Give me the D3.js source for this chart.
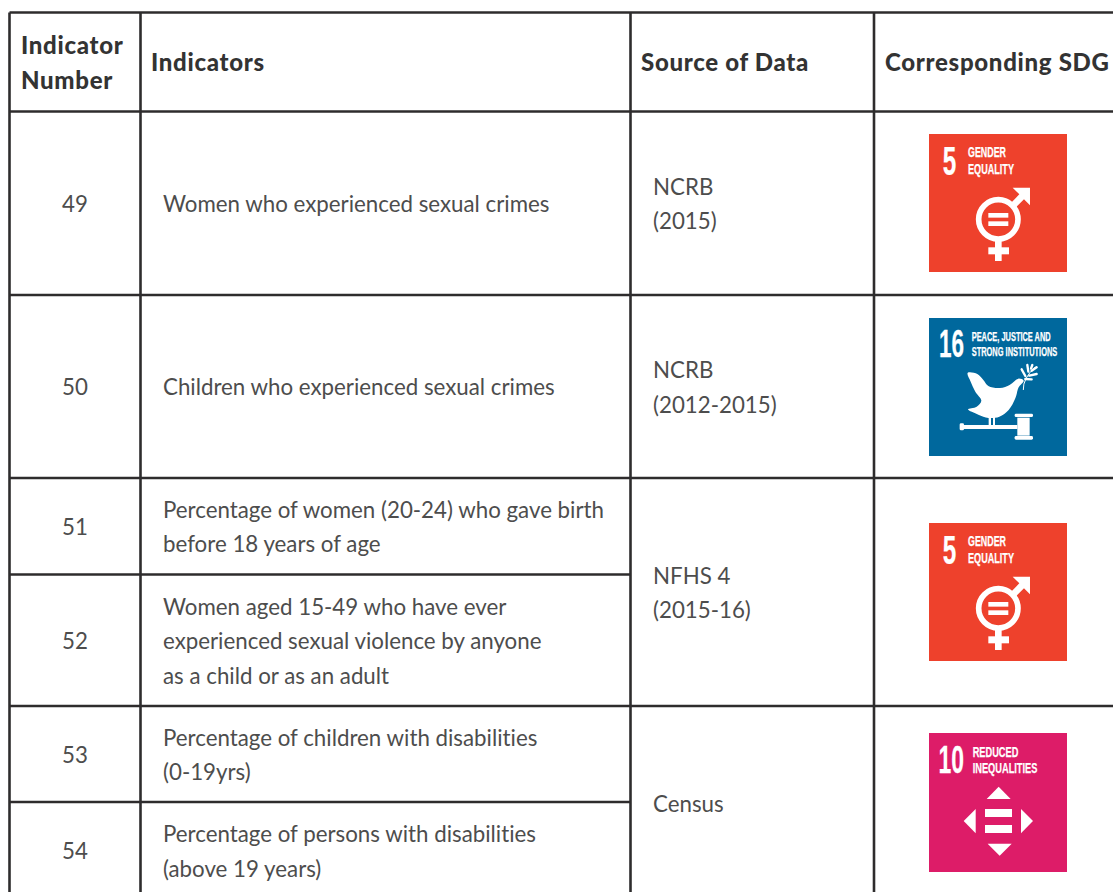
<!DOCTYPE html>
<html>
<head>
<meta charset="utf-8">
<script src="https://d3js.org/d3.v7.min.js"></script>
<style>
  html, body { margin: 0; background: #fff; overflow: hidden; }
  text { font-family: Lato, "Open Sans", sans-serif; font-variant-ligatures: none; }
  .head { font-size: 24px; font-weight: 900; fill: #333; letter-spacing: 0.7px; }
  .cell { font-size: 22.3px; fill: #4d4d4d; }
  .tileText { font-family: "Liberation Sans Narrow", "Liberation Sans", sans-serif; fill: #fff; stroke: #fff; stroke-width: 0.25px; }
</style>
</head>
<body>
<div id="table"></div>
<script>
// table content
var headers = [
  { lines: ["Indicator", "Number"], col: 0 },
  { lines: ["Indicators"], col: 1 },
  { lines: ["Source of Data"], col: 2 },
  { lines: ["Corresponding SDG"], col: 3 }
];
var indicatorNumbers = ["49", "50", "51", "52", "53", "54"];
var indicatorLines = [
  ["Women who experienced sexual crimes"],
  ["Children who experienced sexual crimes"],
  ["Percentage of women (20-24) who gave birth", "before 18 years of age"],
  ["Women aged 15-49 who have ever", "experienced sexual violence by anyone", "as a child or as an adult"],
  ["Percentage of children with disabilities", "(0-19yrs)"],
  ["Percentage of persons with disabilities", "(above 19 years)"]
];
var sources = [
  { from: 0, to: 0, lines: ["NCRB", "(2015)"] },
  { from: 1, to: 1, lines: ["NCRB", "(2012-2015)"] },
  { from: 2, to: 3, lines: ["NFHS 4", "(2015-16)"] },
  { from: 4, to: 5, lines: ["Census"] }
];
var sdgTiles = [
  { from: 0, to: 0, goal: 5 },
  { from: 1, to: 1, goal: 16 },
  { from: 2, to: 3, goal: 5 },
  { from: 4, to: 5, goal: 10 }
];
var sdgNames = {
  5: ["GENDER", "EQUALITY"],
  10: ["REDUCED", "INEQUALITIES"],
  16: ["PEACE, JUSTICE AND", "STRONG INSTITUTIONS"]
};
var sdgColors = { 5: "#ee412c", 10: "#dd1c68", 16: "#00689d" };

// grid layout
const svgWidth = 1113;
const svgHeight = 892;
var colX = [9.5, 140.5, 630.5, 874, 1120];
var headTop = 12.5;
var rowY = [111.5, 295, 478, 574.5, 706, 802, 900];
var lineGap = 34.5;
var tileSize = 138;

var svg = d3.select("#table")
  .append("svg")
  .attr("width", svgWidth)
  .attr("height", svgHeight);

// grid lines
var grid = svg.append("g")
  .attr("stroke", "#2e2c2d")
  .attr("stroke-width", 2.6);

colX.slice(0, 4).forEach(function(x) {
  grid.append("line").attr("x1", x).attr("x2", x).attr("y1", headTop).attr("y2", svgHeight);
});
grid.append("line").attr("x1", colX[0]).attr("x2", svgWidth).attr("y1", headTop).attr("y2", headTop);
rowY.slice(0, 6).forEach(function(y, i) {
  // rows 51/52 and 53/54 share the source and SDG cells
  var right = (i === 3 || i === 5) ? colX[2] : svgWidth;
  grid.append("line").attr("x1", colX[0]).attr("x2", right).attr("y1", y).attr("y2", y);
});

// stacked text lines, centred on cy
function addLines(g, lines, x, cy, cls, anchor, gap) {
  var step = gap || lineGap;
  var first = cy - (lines.length - 1) * step / 2;
  lines.forEach(function(line, i) {
    g.append("text")
      .attr("class", cls)
      .attr("x", x)
      .attr("y", first + i * step)
      .attr("dy", "0.35em")
      .attr("text-anchor", anchor)
      .text(line);
  });
}

// header
var headX = [21, 151, 641, 885];
headers.forEach(function(h) {
  addLines(svg, h.lines, headX[h.col], 63, "head", "start", 35);
});

// body rows
indicatorNumbers.forEach(function(num, i) {
  var cy = (rowY[i] + rowY[i + 1]) / 2 + 1;
  if (i === 5) cy = 851.5;
  addLines(svg, [num], 75, cy, "cell", "middle");
  addLines(svg, indicatorLines[i], 163, cy, "cell", "start");
});

sources.forEach(function(s) {
  var cy = (rowY[s.from] + rowY[s.to + 1]) / 2;
  if (s.to === 5) cy = 803;
  addLines(svg, s.lines, 653, cy + 1, "cell", "start");
});

// SDG tiles
var tileTop = [134, 318, 523, 733];
sdgTiles.forEach(function(t, i) {
  var g = svg.append("g").attr("transform", `translate(929, ${tileTop[i]})`);
  g.append("rect")
    .attr("width", tileSize)
    .attr("height", tileSize + (t.goal === 10 ? 1 : 0))
    .attr("fill", sdgColors[t.goal]);
  drawTileTitle(g, t.goal);
  // glyphs are traced in 3x coordinates, so scale them back down
  var glyph = g.append("g").attr("transform", "translate(-9, -8) scale(0.3333)");
  if (t.goal === 5) drawGender(glyph);
  if (t.goal === 16) drawDove(glyph);
  if (t.goal === 10) drawArrows(glyph);
});

function drawTileTitle(g, goal) {
  var big = goal === 5 ? { x: 13.7, w: 13.5, size: 40, y: 41 } :
    goal === 16 ? { x: 10, w: 25, size: 38, y: 39 } : { x: 9.5, w: 25.5, size: 39, y: 40 };
  // squeeze the big number sideways so its box stays clear of the title
  var num = g.append("text")
    .attr("class", "tileText")
    .attr("font-size", big.size)
    .attr("font-weight", 700)
    .text(goal);
  var sx = big.w / num.node().getComputedTextLength();
  num.attr("transform", `translate(${big.x}, ${big.y}) scale(${sx}, 1)`);

  var lines = sdgNames[goal];
  var tx = goal === 5 ? 39 : goal === 16 ? 42.7 : 43.7;
  var widths = goal === 5 ? [38, 46] : goal === 16 ? [79, 85.6] : [45.7, 64.7];
  var size = goal === 16 ? 12 : 15;
  var base = goal === 16 ? [22.7, 37.7] : goal === 5 ? [23.3, 40] : [23.7, 40.3];
  lines.forEach(function(line, i) {
    g.append("text")
      .attr("class", "tileText")
      .attr("x", tx)
      .attr("y", base[i])
      .attr("font-size", size)
      .attr("font-weight", 700)
      .attr("textLength", widths[i])
      .attr("lengthAdjust", "spacingAndGlyphs")
      .text(line);
  });
}

function poly(g, pts) {
  g.append("path").attr("d", d3.line()(pts) + "Z").attr("fill", "#fff");
}

function drawGender(g) {
  g.append("circle")
    .attr("cx", 235).attr("cy", 280).attr("r", 59)
    .attr("fill", "none").attr("stroke", "#fff").attr("stroke-width", 17);
  poly(g, [[205, 261], [265, 261], [265, 275], [205, 275]]);
  poly(g, [[205, 286], [265, 286], [265, 300], [205, 300]]);
  poly(g, [[225, 340], [245, 340], [245, 405], [225, 405]]);
  poly(g, [[205, 364], [267, 364], [267, 385], [205, 385]]);
  // male arrow
  poly(g, [[278, 185], [330, 185], [330, 238], [312, 220], [286, 246], [272, 232], [298, 205]]);
}

function drawDove(g) {
  var body = [[143, 189], [172, 192], [190, 210], [205, 228], [240, 234], [270, 224], [295, 206], [311, 212],
    [296, 232], [286, 265], [266, 300], [238, 320], [205, 324], [175, 314], [144, 298], [170, 290],
    [184, 272], [166, 245], [152, 215]];
  g.append("path")
    .attr("d", d3.line().curve(d3.curveCatmullRomClosed.alpha(0.5))(body))
    .attr("fill", "#fff");
  poly(g, [[206, 318], [213, 318], [213, 348], [206, 348]]);
  poly(g, [[219, 318], [225, 318], [225, 348], [219, 348]]);
  // gavel
  g.append("rect").attr("x", 119).attr("y", 340).attr("width", 13).attr("height", 21).attr("rx", 4).attr("fill", "#fff");
  poly(g, [[130, 345], [292, 345], [292, 357], [130, 357]]);
  poly(g, [[292, 323], [329, 323], [329, 377], [292, 377]]);
  g.append("rect").attr("x", 284).attr("y", 311).attr("width", 55).attr("height", 10).attr("rx", 4).attr("fill", "#fff");
  g.append("rect").attr("x", 284).attr("y", 378).attr("width", 55).attr("height", 11).attr("rx", 4).attr("fill", "#fff");
  // olive branch
  g.append("path")
    .attr("d", "M310,240 Q308,205 347,170")
    .attr("fill", "none").attr("stroke", "#fff").attr("stroke-width", 3);
  var leaves = [[305, 178, 316, 198], [322, 165, 325, 185], [337, 165, 333, 176], [350, 172, 335, 182], [350, 192, 328, 197], [335, 208, 316, 207]];
  leaves.forEach(function(l) {
    g.append("line")
      .attr("x1", l[0]).attr("y1", l[1]).attr("x2", l[2]).attr("y2", l[3])
      .attr("stroke", "#fff").attr("stroke-width", 7).attr("stroke-linecap", "round");
  });
}

function drawArrows(g) {
  poly(g, [[236, 185], [272, 222], [200, 222]]);
  poly(g, [[203, 356], [275, 356], [239, 392]]);
  poly(g, [[167, 252], [167, 325], [131, 288]]);
  poly(g, [[303, 252], [303, 325], [339, 288]]);
  poly(g, [[195, 252], [276, 252], [276, 276], [195, 276]]);
  poly(g, [[195, 300], [276, 300], [276, 324], [195, 324]]);
}
</script>
</body>
</html>
